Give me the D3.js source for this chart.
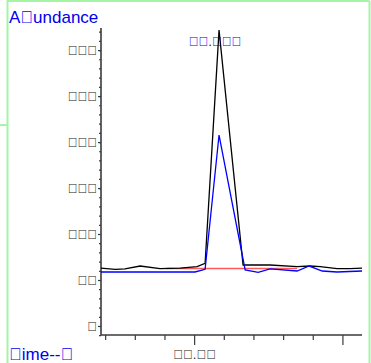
<!DOCTYPE html>
<html>
<head>
<meta charset="utf-8">
<script src="https://cdn.jsdelivr.net/npm/d3@7"></script>
<style>
  html, body { margin: 0; padding: 0; background: #fff; }
  svg { display: block; }
  text { font-family: "Liberation Sans", Arial, sans-serif; }
</style>
</head>
<body>
<svg id="chart" width="371" height="363"></svg>
<script>
// Glyph used by the instrument export for characters its font lacks
const NG = "\uE000";

// Retention time (min) / abundance samples, total ion trace
const ticTime  = [12.186, 12.234, 12.267, 12.318, 12.385, 12.453, 12.510, 12.537, 12.584, 12.665, 12.696, 12.756, 12.847, 12.891, 12.925, 12.982, 13.026, 13.066];
const ticAbund = [63.0, 61.6, 62.0, 65.2, 62.3, 63.0, 64.5, 68.2, 321.7, 66.3, 66.3, 66.3, 64.5, 65.2, 64.5, 62.3, 62.3, 63.0];

// Extracted ion trace
const ionTime  = [12.186, 12.503, 12.537, 12.584, 12.672, 12.716, 12.756, 12.847, 12.888, 12.932, 12.982, 13.066];
const ionAbund = [58.7, 58.7, 61.6, 207.6, 60.9, 58.4, 62.0, 59.8, 65.2, 59.8, 58.7, 59.8];

// Integration baseline
const baseTime  = [12.406, 12.847];
const baseAbund = [62.5, 62.5];

// Axis ticks and labels
const yMajor = [0, 50, 100, 150, 200, 250, 300];
const yMajorLabels = [NG, NG + NG, NG + NG + NG, NG + NG + NG, NG + NG + NG, NG + NG + NG, NG + NG + NG];
const yMinor = d3.range(-10, 321, 10);
const xMinor = [12.2, 12.3, 12.4, 12.6, 12.7, 12.8, 12.9];
const xMajor = [12.5, 13.0];
const xMajorLabels = [NG + NG + "." + NG + NG, ""];

const yTitle = "A" + NG + "undance";
const xTitle = NG + "ime--" + NG;
const peakLabel = NG + NG + "." + NG + NG + NG;
const peakTime = 12.584;

const svg = d3.select("#chart");

const x = d3.scaleLinear().domain([12.186, 13.066]).range([101, 362]);
const y = d3.scaleLinear().domain([-9.8, 324]).range([335, 28]);

// Frame
const frame = svg.append("g").attr("stroke", "#a6f5a6").attr("stroke-width", 2).attr("fill", "none");
frame.append("line").attr("x1", 7.5).attr("x2", 7.5).attr("y1", 0).attr("y2", 363);
frame.append("line").attr("x1", 7.5).attr("x2", 369.5).attr("y1", 1).attr("y2", 1);
frame.append("line").attr("x1", 369.5).attr("x2", 369.5).attr("y1", 1).attr("y2", 363);
frame.append("line").attr("x1", 0).attr("x2", 7.5).attr("y1", 125).attr("y2", 125);

const axisColor = "#3a3a3a";

// Y axis: minor then major ticks
const yMinorAxis = svg.append("g").attr("transform", "translate(101,0)")
  .call(d3.axisLeft(y).tickValues(yMinor).tickSize(2).tickFormat(""));
const yMajorAxis = svg.append("g").attr("transform", "translate(101,0)")
  .call(d3.axisLeft(y).tickValues(yMajor).tickSize(3).tickPadding(1)
    .tickFormat((d, i) => yMajorLabels[i]));
yMinorAxis.select(".domain").remove();
yMajorAxis.select(".domain").attr("d", `M0,${y.range()[1]}V${y.range()[0]}`);

// X axis
const xMinorAxis = svg.append("g").attr("transform", "translate(0,335)")
  .call(d3.axisBottom(x).tickValues(xMinor).tickSize(5).tickFormat(""));
const xMajorAxis = svg.append("g").attr("transform", "translate(0,335)")
  .call(d3.axisBottom(x).tickValues(xMajor).tickSize(10).tickPadding(5)
    .tickFormat((d, i) => xMajorLabels[i]));
xMinorAxis.select(".domain").remove();
xMajorAxis.select(".domain").attr("d", `M${x.range()[0]},0H${x.range()[1]}`);

svg.selectAll(".domain").attr("stroke", axisColor).attr("stroke-width", 1.6);
svg.selectAll(".tick line").attr("stroke", axisColor).attr("stroke-width", 1.2);
svg.selectAll(".tick text")
  .attr("fill", "#222")
  .attr("font-family", "\"Liberation Sans\", Arial, sans-serif")
  .attr("font-size", 13);

// Traces
const line = (xs, ys) => d3.line()
  .x((d, i) => x(xs[i]))
  .y((d, i) => y(ys[i]))(xs);

svg.append("path").attr("d", line(baseTime, baseAbund))
  .attr("fill", "none").attr("stroke", "#ff5a5a").attr("stroke-width", 1.6);
svg.append("path").attr("d", line(ticTime, ticAbund))
  .attr("fill", "none").attr("stroke", "#000").attr("stroke-width", 1.3);
svg.append("path").attr("d", line(ionTime, ionAbund))
  .attr("fill", "none").attr("stroke", "#0000ff").attr("stroke-width", 1.3);

// Labels
svg.append("text").attr("x", 9).attr("y", 23)
  .attr("font-size", 17).attr("fill", "#0000ee").text(yTitle);
svg.append("text").attr("x", 9).attr("y", 360)
  .attr("font-size", 17).attr("fill", "#0000ee").text(xTitle);
svg.append("text").attr("x", x(peakTime) - 4).attr("y", 46)
  .attr("text-anchor", "middle")
  .attr("font-size", 13).attr("fill", "#0000ee").text(peakLabel);
</script>
</body>
</html>
